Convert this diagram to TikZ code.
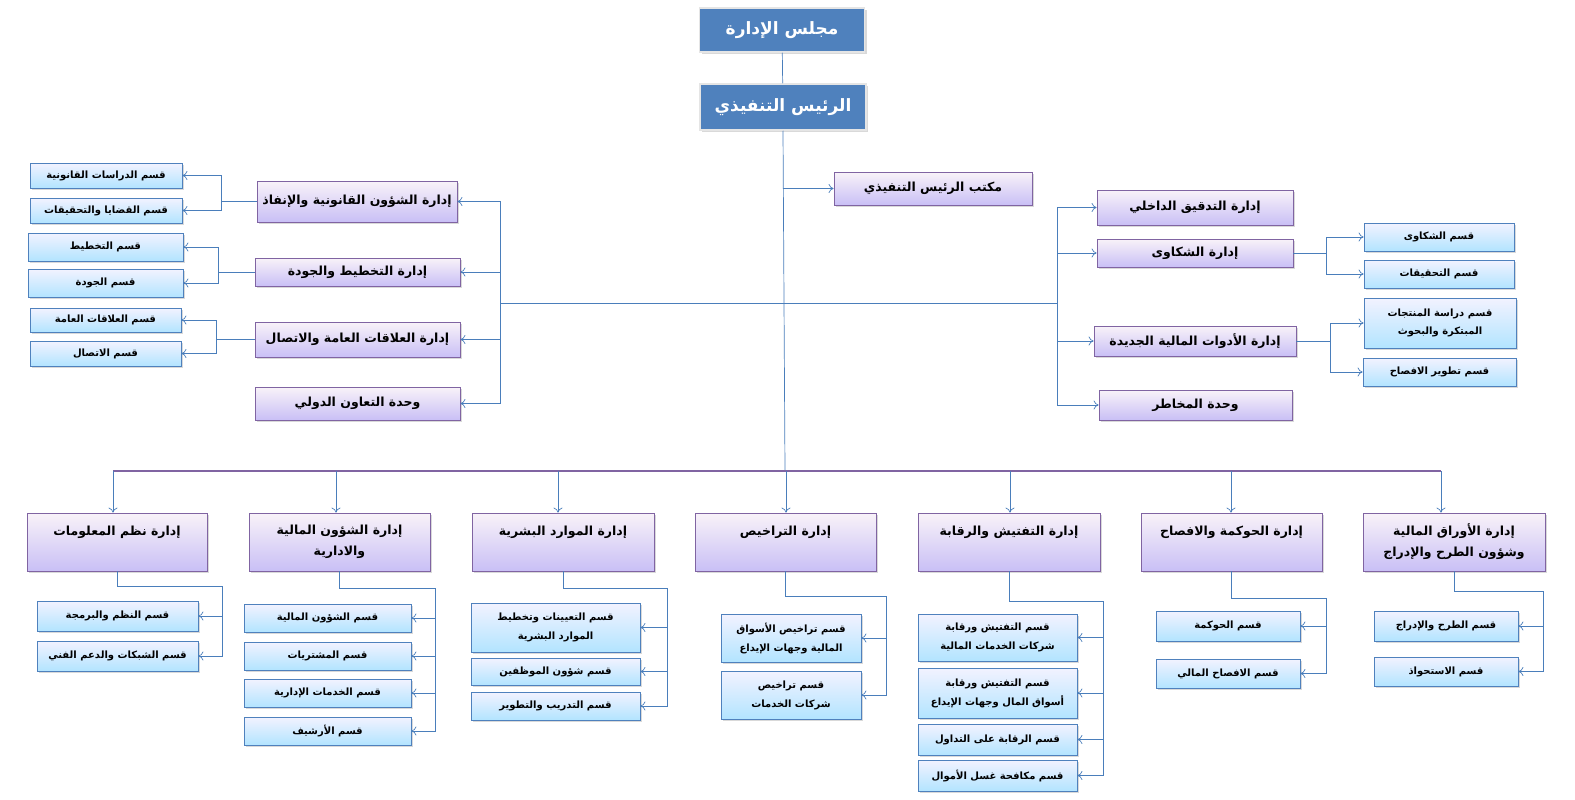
\documentclass[tikz,border=0pt]{standalone}
\usepackage{fontspec}
\usetikzlibrary{arrows.meta,shadows}
\TeXXeTstate=1
\newfontfamily\arabicfont[Script=Arabic]{DejaVu Sans}
\newcommand\ar[1]{{\arabicfont\beginR #1\endR}}
\definecolor{lnc}{HTML}{4A7EBB}
\definecolor{pbd}{HTML}{8064A2}
\definecolor{bbd}{HTML}{4F81BD}
\tikzset{
 base/.style={draw, line width=0.8pt, inner sep=1pt, align=center, drop shadow={opacity=0.3,shadow xshift=2pt,shadow yshift=-2pt}},
 topbox/.style={base, draw=white!80!gray, fill=bbd, text=white, font=\bfseries\fontsize{17}{19}\selectfont, line width=1.5pt},
 mgr/.style={base, draw=pbd, top color=violet!5, bottom color=violet!30!blue!25, font=\bfseries\fontsize{12.5}{21}\selectfont},
 sub/.style={base, draw=bbd, top color=blue!5, bottom color=blue!35!cyan!30, font=\bfseries\fontsize{10}{18}\selectfont},
 st/.style={inner sep=0pt, align=center, font=\bfseries\fontsize{10}{19}\selectfont},
 ttl/.style={inner sep=0pt, align=center, font=\bfseries\fontsize{12.5}{21}\selectfont},
 ln/.style={draw=lnc, line width=0.7pt},
 arr/.style={ln, -{To[length=5pt,width=9pt]}},
}
\newcommand\bx[6]{\node[#1, minimum width={(#4-#3)*1pt}, minimum height={(#6-#5)*1pt}] (#2) at ({(#3+#4)/2},{(#5+#6)/2}) {};}
\begin{document}
\begin{tikzpicture}[x=1pt,y=-1pt]
\useasboundingbox (0,0) rectangle (1575,800);
% top
\node[topbox, minimum width=165pt, minimum height=44pt] (board) at (782,30) {\ar{مجلس الإدارة}};
\node[topbox, minimum width=166pt, minimum height=46pt] (ceo) at (783,107) {\ar{الرئيس التنفيذي}};
\draw[ln] (board) -- (ceo);
\node[mgr, minimum width=198pt, minimum height=33pt] (off) at (933,188.5) {\ar{مكتب الرئيس التنفيذي}};
% left managements
\node[mgr, minimum width=200pt, minimum height=41pt] (L1) at (357,201.5) {\ar{إدارة الشؤون القانونية والإنفاذ}};
\node[mgr, minimum width=205pt, minimum height=28pt] (L2) at (357.5,272) {\ar{إدارة التخطيط والجودة}};
\node[mgr, minimum width=205pt, minimum height=35pt] (L3) at (357.5,339.5) {\ar{إدارة العلاقات العامة والاتصال}};
\node[mgr, minimum width=205pt, minimum height=33pt] (L4) at (357.5,403.5) {\ar{وحدة التعاون الدولي}};
% left subs
\node[sub, minimum width=152pt, minimum height=25pt] (S1) at (106,175.5) {\ar{قسم الدراسات القانونية}};
\node[sub, minimum width=152pt, minimum height=25pt] (S2) at (106,210.5) {\ar{قسم القضايا والتحقيقات}};
\node[sub, minimum width=155pt, minimum height=28pt] (S3) at (105.5,247) {\ar{قسم التخطيط}};
\node[sub, minimum width=155pt, minimum height=28pt] (S4) at (105.5,283) {\ar{قسم الجودة}};
\node[sub, minimum width=151pt, minimum height=24pt] (S5) at (105.5,320) {\ar{قسم العلاقات العامة}};
\node[sub, minimum width=151pt, minimum height=25pt] (S6) at (105.5,353.5) {\ar{قسم الاتصال}};
% right managements
\node[mgr, minimum width=196pt, minimum height=35pt] (R1) at (1195,207.5) {\ar{إدارة التدقيق الداخلي}};
\node[mgr, minimum width=196pt, minimum height=28pt] (R2) at (1195,253) {\ar{إدارة الشكاوى}};
\node[mgr, minimum width=202pt, minimum height=30pt] (R3) at (1195,341) {\ar{إدارة الأدوات المالية الجديدة}};
\node[mgr, minimum width=193pt, minimum height=30pt] (R4) at (1195.5,405) {\ar{وحدة المخاطر}};
% right subs
\node[sub, minimum width=150pt, minimum height=28pt] (RS1) at (1439,237) {\ar{قسم الشكاوى}};
\node[sub, minimum width=150pt, minimum height=28pt] (RS2) at (1439,274) {\ar{قسم التحقيقات}};
\node[sub, minimum width=152pt, minimum height=50pt] (RS3) at (1440,323) {\ar{قسم دراسة المنتجات}\\\ar{المبتكرة والبحوث}};
\node[sub, minimum width=153pt, minimum height=28pt] (RS4) at (1439.5,372) {\ar{قسم تطوير الافصاح}};
% connectors upper
\coordinate (hl) at (500,303); \coordinate (hr) at (1057,303);
\coordinate (bus) at (785,471); \coordinate (busL) at (113,471); \coordinate (busR) at (1441,471);
\draw[ln] (ceo.south) -- (bus);
\draw[arr] (ceo.south |- off.west) -- (off.west);
\draw[ln] (hl) -- (hr);
\foreach \n in {L1,L2,L3,L4} \draw[arr] (hl) |- (\n.east);
\foreach \n in {R1,R2,R3,R4} \draw[arr] (hr) |- (\n.west);
\coordinate (k1) at (221,0); \coordinate (k2) at (218,0); \coordinate (k3) at (216,0);
\coordinate (k4) at (1326,0); \coordinate (k5) at (1330,0);
\draw[ln] (L1.west) -- (k1 |- L1.west); \draw[arr] (k1 |- L1.west) |- (S1.east); \draw[arr] (k1 |- L1.west) |- (S2.east);
\draw[ln] (L2.west) -- (k2 |- L2.west); \draw[arr] (k2 |- L2.west) |- (S3.east); \draw[arr] (k2 |- L2.west) |- (S4.east);
\draw[ln] (L3.west) -- (k3 |- L3.west); \draw[arr] (k3 |- L3.west) |- (S5.east); \draw[arr] (k3 |- L3.west) |- (S6.east);
\draw[ln] (R2.east) -- (k4 |- R2.east); \draw[arr] (k4 |- R2.east) |- (RS1.west); \draw[arr] (k4 |- R2.east) |- (RS2.west);
\draw[ln] (R3.east) -- (k5 |- R3.east); \draw[arr] (k5 |- R3.east) |- (RS3.west); \draw[arr] (k5 |- R3.east) |- (RS4.west);
% bottom bus
\draw[draw=pbd, line width=1.2pt] (busL) -- (busR);
% bottom managements
\bx{mgr}{B1}{27}{207}{513}{571}
\bx{mgr}{B2}{249}{430}{513}{571}
\bx{mgr}{B3}{472}{654}{513}{571}
\bx{mgr}{B4}{695}{876}{513}{571}
\bx{mgr}{B5}{918}{1100}{513}{571}
\bx{mgr}{B6}{1141}{1322}{513}{571}
\bx{mgr}{B7}{1363}{1545}{513}{571}
\node[ttl] (t1) at ([yshift=-20pt]B1.north) {\ar{إدارة نظم المعلومات}};
\node[ttl] (t2) at (B2.center) {\ar{إدارة الشؤون المالية}\\\ar{والادارية}};
\node[ttl] (t3) at ([yshift=-20pt]B3.north) {\ar{إدارة الموارد البشرية}};
\node[ttl] (t4) at ([yshift=-20pt]B4.north) {\ar{إدارة التراخيص}};
\node[ttl] (t5) at ([yshift=-20pt]B5.north) {\ar{إدارة التفتيش والرقابة}};
\node[ttl] (t6) at ([yshift=-20pt]B6.north) {\ar{إدارة الحوكمة والافصاح}};
\node[ttl] (t7) at (B7.center) {\ar{إدارة الأوراق المالية}\\\ar{وشؤون الطرح والإدراج}};
\foreach \n/\x in {B1/113,B2/336,B3/558,B4/786,B5/1010,B6/1231,B7/1441}{
  \coordinate (a\n) at (\x,471);
  \draw[arr] (a\n) -- (a\n |- \n.north);
}
% bottom subs
\bx{sub}{b11}{37}{198}{601}{631} \node[st] (x11) at (b11) {\ar{قسم النظم والبرمجة}};
\bx{sub}{b12}{37}{198}{641}{671} \node[st] (x12) at (b12) {\ar{قسم الشبكات والدعم الفني}};
\bx{sub}{b21}{244}{411}{604}{632} \node[st] (x21) at (b21) {\ar{قسم الشؤون المالية}};
\bx{sub}{b22}{244}{411}{642}{670} \node[st] (x22) at (b22) {\ar{قسم المشتريات}};
\bx{sub}{b23}{244}{411}{679}{707} \node[st] (x23) at (b23) {\ar{قسم الخدمات الإدارية}};
\bx{sub}{b24}{244}{411}{717}{745} \node[st] (x24) at (b24) {\ar{قسم الأرشيف}};
\bx{sub}{b31}{471}{640}{603}{652} \node[st] (x31) at (b31) {\ar{قسم التعيينات وتخطيط}\\\ar{الموارد البشرية}};
\bx{sub}{b32}{471}{640}{658}{685} \node[st] (x32) at (b32) {\ar{قسم شؤون الموظفين}};
\bx{sub}{b33}{471}{640}{692}{720} \node[st] (x33) at (b33) {\ar{قسم التدريب والتطوير}};
\bx{sub}{b41}{721}{861}{614}{662} \node[st] (x41) at (b41) {\ar{قسم تراخيص الأسواق}\\\ar{المالية وجهات الإيداع}};
\bx{sub}{b42}{721}{861}{671}{719} \node[st] (x42) at (b42) {\ar{قسم تراخيص}\\\ar{شركات الخدمات}};
\bx{sub}{b51}{918}{1077}{614}{661} \node[st] (x51) at (b51) {\ar{قسم التفتيش ورقابة}\\\ar{شركات الخدمات المالية}};
\bx{sub}{b52}{918}{1077}{668}{718} \node[st] (x52) at (b52) {\ar{قسم التفتيش ورقابة}\\\ar{أسواق المال وجهات الإيداع}};
\bx{sub}{b53}{918}{1077}{724}{755} \node[st] (x53) at (b53) {\ar{قسم الرقابة على التداول}};
\bx{sub}{b54}{918}{1077}{760}{791} \node[st] (x54) at (b54) {\ar{قسم مكافحة غسل الأموال}};
\bx{sub}{b61}{1156}{1300}{611}{641} \node[st] (x61) at (b61) {\ar{قسم الحوكمة}};
\bx{sub}{b62}{1156}{1300}{659}{688} \node[st] (x62) at (b62) {\ar{قسم الافصاح المالي}};
\bx{sub}{b71}{1374}{1518}{611}{641} \node[st] (x71) at (b71) {\ar{قسم الطرح والإدراج}};
\bx{sub}{b72}{1374}{1518}{657}{686} \node[st] (x72) at (b72) {\ar{قسم الاستحواذ}};
\coordinate (c1) at (222,586); \coordinate (c2) at (435,588); \coordinate (c3) at (667,588);
\coordinate (c4) at (886,596); \coordinate (c5) at (1103,601); \coordinate (c6) at (1326,598); \coordinate (c7) at (1543,591);
\foreach \b/\c/\s in {B1/c1/{b11,b12},B2/c2/{b21,b22,b23,b24},B3/c3/{b31,b32,b33},B4/c4/{b41,b42},B5/c5/{b51,b52,b53,b54},B6/c6/{b61,b62},B7/c7/{b71,b72}}{
  \draw[ln] (\b.south) |- (\c);
  \foreach \t in \s \draw[arr] (\c) |- (\t.east);
}
\end{tikzpicture}
\end{document}
